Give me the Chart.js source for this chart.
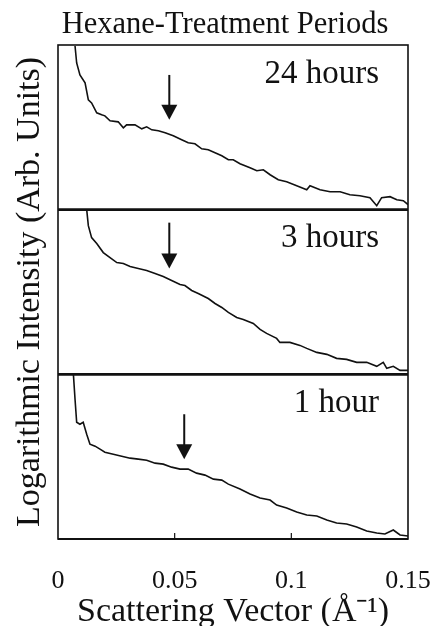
<!DOCTYPE html>
<html><head><meta charset="utf-8">
<script src="https://cdn.jsdelivr.net/npm/chart.js@4.4.0/dist/chart.umd.min.js"></script>
<style>
html,body{margin:0;padding:0;background:#fff;overflow:hidden;}
#wrap{position:relative;width:436px;height:629px;}
</style></head><body>
<div id="wrap"><canvas id="c"></canvas></div>
<script>
// ---- data ----
const xTickValues = [0, 0.05, 0.1, 0.15];
const xTickLabels = ['0', '0.05', '0.1', '0.15'];
const panelLabels = ['24 hours', '3 hours', '1 hour'];

// 24 hours (top panel)
const q24 = [0.0073,0.0080,0.0094,0.0116,0.0130,0.0144,0.0166,0.0187,0.0201,0.0223,0.0258,0.0280,0.0294,0.0330,0.0359,0.0380,0.0402,0.0430,0.0459,0.0494,0.0530,0.0558,0.0587,0.0616,0.0644,0.0673,0.0702,0.0730,0.0751,0.0780,0.0823,0.0852,0.0880,0.0909,0.0944,0.0980,0.1023,0.1066,0.1080,0.1123,0.1166,0.1209,0.1251,0.1294,0.1337,0.1366,0.1387,0.1423,0.1452,0.1480,0.1500];
const i24 = [164,147,135,127,110,107,97,95,94,89,88,82,85,85,81,83,80,79,77,74,70,67,66,61,60,57,54,50,50,46,42,39,40,35,30,28,24,20,24,20,18,18,15,14,12,4,12,13,10,9,5];

// 3 hours (middle panel)
const q3 = [0.0123,0.0130,0.0144,0.0166,0.0194,0.0223,0.0252,0.0280,0.0309,0.0344,0.0380,0.0416,0.0451,0.0487,0.0523,0.0544,0.0573,0.0601,0.0644,0.0673,0.0702,0.0730,0.0766,0.0794,0.0837,0.0866,0.0894,0.0937,0.0951,0.0994,0.1037,0.1066,0.1109,0.1152,0.1194,0.1237,0.1280,0.1323,0.1366,0.1394,0.1409,0.1437,0.1466,0.1500];
const i3 = [165,149,137,131,122,117,112,111,108,106,104,101,98,94,90,89,84,81,76,71,67,62,57,55,51,45,41,36,32,32,29,26,22,20,16,15,12,12,8,12,6,8,4,4];

// 1 hour (bottom panel)
const q1 = [0.0066,0.0073,0.0080,0.0094,0.0108,0.0123,0.0137,0.0159,0.0180,0.0201,0.0237,0.0273,0.0309,0.0344,0.0380,0.0416,0.0451,0.0487,0.0523,0.0558,0.0594,0.0630,0.0666,0.0702,0.0730,0.0780,0.0823,0.0866,0.0909,0.0937,0.0980,0.1023,0.1066,0.1109,0.1152,0.1194,0.1237,0.1280,0.1323,0.1366,0.1401,0.1437,0.1466,0.1500];
const i1 = [165,140,117,115,117,105,95,93,90,87,85,83,81,80,79,76,75,72,70,70,66,64,60,59,55,50,45,41,39,34,31,27,24,23,19,16,15,12,8,6,5,9,4,3];

// arrows marking the shoulder (scattering vector, intensity from, intensity to)
const arrowQ = [0.0477, 0.0477, 0.0541];
const arrowFrom = [135, 152, 125];
const arrowTo = [90, 106, 80];

// ---- chart ----
const FONT = "'Liberation Serif', 'Times New Roman', serif";
const ink = '#111';
const panelAxes = ['y24', 'y3', 'y1'];
const series = [[q24, i24], [q3, i3], [q1, i1]];

const datasets = series.map((s, k) => ({
  data: s[0].map((x, j) => ({x: x, y: s[1][j]})),
  yAxisID: panelAxes[k],
  showLine: true,
  borderColor: ink,
  borderWidth: 1.6,
  pointRadius: 0,
  tension: 0,
  fill: false
}));

function panelScale() {
  return {
    type: 'linear', position: 'left', stack: 'panels', stackWeight: 1,
    min: 0, max: 165, offset: false, display: true,
    ticks: {display: false}, grid: {display: false, drawTicks: false}, border: {display: false},
    afterFit: (s) => { s.width = 0; }
  };
}

const framePlugin = {
  id: 'frame',
  afterDatasetsDraw(chart) {
    const {ctx, chartArea: a, scales} = chart;
    const xs = scales.x;
    ctx.save();
    ctx.strokeStyle = ink;
    ctx.fillStyle = ink;
    ctx.lineWidth = 1.6;
    ctx.strokeRect(a.left, a.top, a.right - a.left, a.bottom - a.top);
    ctx.lineWidth = 2.8;
    ['y3', 'y1'].forEach(id => {
      const s = scales[id];
      ctx.beginPath(); ctx.moveTo(a.left, s.top); ctx.lineTo(a.right, s.top); ctx.stroke();
    });
    ctx.lineWidth = 2.2;
    ctx.beginPath(); ctx.moveTo(a.left, a.bottom); ctx.lineTo(a.right, a.bottom); ctx.stroke();
    // inner tick marks
    ctx.lineWidth = 1.2;
    xs.ticks.forEach(t => {
      if (t.value > xs.min && t.value < xs.max) {
        const px = xs.getPixelForValue(t.value);
        ctx.beginPath(); ctx.moveTo(px, a.bottom); ctx.lineTo(px, a.bottom - 6); ctx.stroke();
      }
    });
    // arrows + panel labels
    panelAxes.forEach((id, k) => {
      const s = scales[id];
      const px = xs.getPixelForValue(arrowQ[k]);
      const y0 = s.getPixelForValue(arrowFrom[k]);
      const y1 = s.getPixelForValue(arrowTo[k]);
      const head = 15, hw = 8;
      ctx.lineWidth = 2;
      ctx.beginPath(); ctx.moveTo(px, y0); ctx.lineTo(px, y1 - head + 1); ctx.stroke();
      ctx.beginPath();
      ctx.moveTo(px - hw, y1 - head); ctx.lineTo(px + hw, y1 - head); ctx.lineTo(px, y1);
      ctx.closePath(); ctx.fill();
      ctx.font = '33px ' + FONT;
      ctx.textAlign = 'right';
      ctx.textBaseline = 'middle';
      ctx.fillText(panelLabels[k], a.right - 29, s.top + 29);
    });
    ctx.restore();
  }
};

new Chart(document.getElementById('c'), {
  type: 'scatter',
  data: {datasets: datasets},
  plugins: [framePlugin],
  options: {
    responsive: true,
    maintainAspectRatio: false,
    animation: false,
    layout: {padding: {left: 42, right: 28, top: 0, bottom: 0}},
    plugins: {
      legend: {display: false},
      tooltip: {enabled: false},
      title: {
        display: true, fullSize: true,
        text: 'Hexane-Treatment Periods',
        color: ink,
        font: {family: FONT, size: 30.5, weight: 'normal', lineHeight: 1.2},
        padding: {top: 7, bottom: 1.4}
      }
    },
    scales: {
      x: {
        type: 'linear', position: 'bottom', min: 0, max: 0.15,
        afterBuildTicks: (scale) => { scale.ticks = xTickValues.map(v => ({value: v})); },
        afterFit: (s) => { s.height = 90; s.paddingLeft = 0; s.paddingRight = 0; },
        ticks: {
          callback: (v, i) => xTickLabels[i],
          color: ink, font: {family: FONT, size: 26, lineHeight: 1},
          padding: 29, maxRotation: 0, autoSkip: false
        },
        grid: {display: false, drawTicks: false},
        border: {display: false},
        title: {
          display: true, text: 'Scattering Vector (\u00C5\u207B\u00B9)', color: ink,
          font: {family: FONT, size: 34, lineHeight: 1},
          padding: {top: 4, bottom: 0}
        }
      },
      yTitle: {
        type: 'linear', position: 'left', weight: 10, min: 0, max: 1, display: true,
        ticks: {display: false}, grid: {display: false, drawTicks: false}, border: {display: false},
        afterFit: (s) => { s.width = 16; },
        title: {
          display: true, text: 'Logarithmic Intensity (Arb. Units)', color: ink,
          font: {family: FONT, size: 34, lineHeight: 1.2},
          padding: {top: -32.4, bottom: 0}
        }
      },
      y1: panelScale(),
      y3: panelScale(),
      y24: panelScale()
    }
  }
});
</script>
</body></html>
